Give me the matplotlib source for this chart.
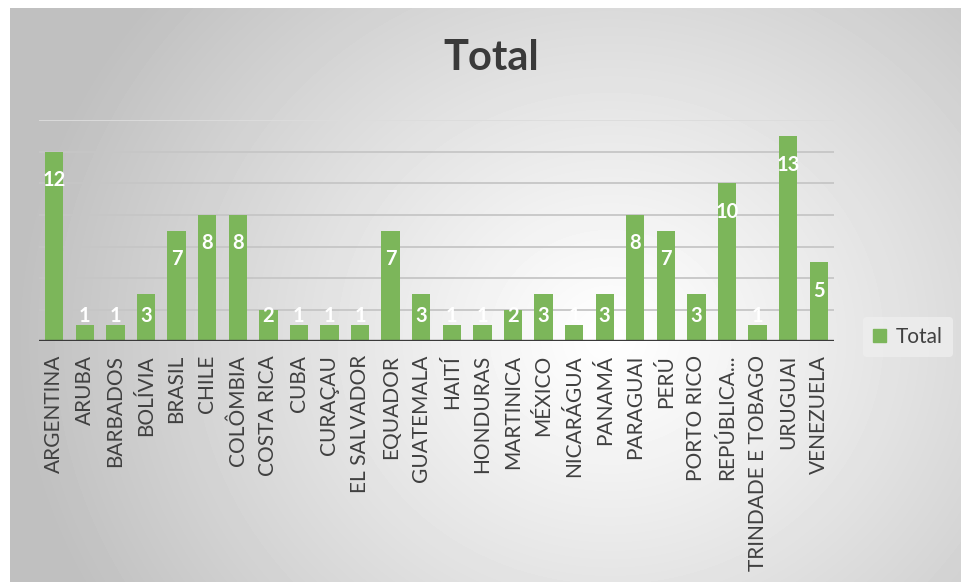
import numpy as np
import matplotlib
matplotlib.use('Agg')
import matplotlib.pyplot as plt
from matplotlib.patches import Patch

# data
paises = ['ARGENTINA', 'ARUBA', 'BARBADOS', 'BOLÍVIA', 'BRASIL', 'CHILE', 'COLÔMBIA',
          'COSTA RICA', 'CUBA', 'CURAÇAU', 'EL SALVADOR', 'EQUADOR', 'GUATEMALA',
          'HAITÍ', 'HONDURAS', 'MARTINICA', 'MÉXICO', 'NICARÁGUA', 'PANAMÁ',
          'PARAGUAI', 'PERÚ', 'PORTO RICO', 'REPÚBLICA...', 'TRINDADE E TOBAGO',
          'URUGUAI', 'VENEZUELA']
total = [12, 1, 1, 3, 7, 8, 8, 2, 1, 1, 1, 7, 3, 1, 1, 2, 3, 1, 3, 8, 7, 3, 10, 1, 13, 5]

plt.rcParams['font.family'] = ['Lato', 'DejaVu Sans']

W, H = 961, 582
fig = plt.figure(figsize=(W / 100, H / 100), dpi=100)
fig.patch.set_facecolor('white')

# fundo com gradiente radial (estilo Excel)
bg = fig.add_axes([10 / W, 0, (W - 10) / W, (H - 8) / H], zorder=-10)
yy, xx = np.mgrid[0:H - 8, 0:W - 10]
d = np.sqrt(((xx - 600) / 1.0) ** 2 + ((yy - 330) / 0.9) ** 2)
v = np.clip(1 - 0.26 * (d / 620) ** 1.1, 0.75, 1.0)
bg.imshow(v, cmap='gray', vmin=0, vmax=1, aspect='auto', interpolation='bilinear')
bg.axis('off')

# grafico
ax = fig.add_axes([39 / W, (H - 341) / H, (834 - 39) / W, 220.5 / H])
ax.patch.set_alpha(0)
x = np.arange(len(paises))
ax.bar(x, total, width=0.6, color='#7cb65a', zorder=3)
ax.set_xlim(-0.5, len(paises) - 0.5)
ax.set_ylim(0, 14)

for g in range(2, 15, 2):
    ax.axhline(g, color='#c6c6c6' if g < 14 else '#dcdcdc', lw=1.3, zorder=1)
ax.axhline(0, color='#3a3a3a', lw=2.4, zorder=4)

for s in ax.spines.values():
    s.set_visible(False)
ax.set_yticks([])
ax.set_xticks(x)
ax.set_xticklabels(paises, rotation=90, fontsize=15, color='#404040')
ax.tick_params(axis='x', length=0, pad=10)

# rotulos de dados
for xi, val in zip(x, total):
    ax.text(xi, max(val - 1.8, 1.6), str(val), ha='center', va='center',
            color='white', fontsize=14.5, fontweight='bold', zorder=5)

fig.text(491 / W, 1 - 58 / H, 'Total', ha='center', va='center',
         fontsize=30, fontweight='bold', color='#3a3a3a')

leg = fig.legend(handles=[Patch(color='#7cb65a', label='Total')],
                 loc='center', bbox_to_anchor=(908 / W, 1 - 337 / H),
                 frameon=True, fontsize=15, handlelength=0.6, handleheight=0.6,
                 handletextpad=0.5, borderpad=0.5)
leg.get_frame().set_facecolor('#eeeeee')
leg.get_frame().set_edgecolor('none')
leg.get_frame().set_alpha(0.8)
for t in leg.get_texts():
    t.set_color('#404040')

fig.savefig('out.png', dpi=100)
